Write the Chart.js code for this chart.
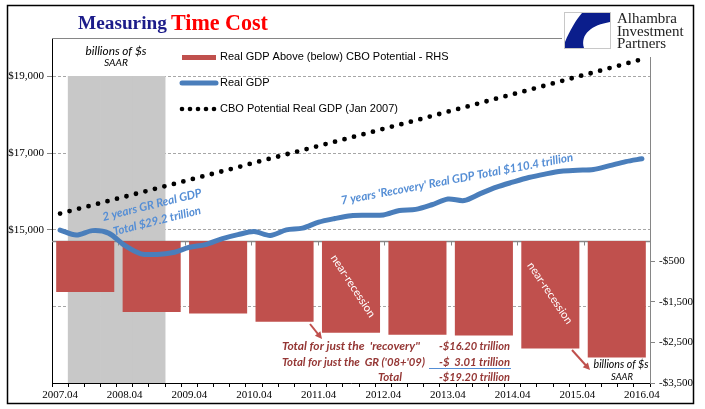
<!DOCTYPE html>
<html><head><meta charset="utf-8">
<script src="https://cdn.jsdelivr.net/npm/chart.js@4.4.1/dist/chart.umd.min.js"></script>
<style>html,body{margin:0;padding:0;background:#fff;}#wrap{width:705px;height:409px;}</style>
</head><body><div id="wrap"><canvas id="c" width="705" height="409"></canvas></div>
<script>
// ---- DATA ----
const quarters = ['2007.04','2008.01','2008.02','2008.03','2008.04','2009.01','2009.02','2009.03','2009.04',
  '2010.01','2010.02','2010.03','2010.04','2011.01','2011.02','2011.03','2011.04','2012.01','2012.02','2012.03','2012.04',
  '2013.01','2013.02','2013.03','2013.04','2014.01','2014.02','2014.03','2014.04','2015.01','2015.02','2015.03','2015.04',
  '2016.01','2016.02','2016.03','2016.04'];
const gapYears = ['2008','2009','2010','2011','2012','2013','2014','2015','2016'];
const gdpGap = [-1260,-1750,-1790,-1990,-2260,-2310,-2330,-2650,-2870];
const realGDP = [14990,14860,14975,14910,14590,14370,14355,14405,14540,14610,14760,14870,14950,14850,14995,15040,
  15195,15290,15365,15375,15385,15500,15530,15650,15800,15760,15940,16110,16240,16360,16450,16525,16550,16570,16670,16775,16850];
const cboPotential = [15420,15530,15640,15750,15860,15970,16080,16190,16300,16410,16520,16630,16745,16855,16965,17075,
  17185,17295,17405,17515,17630,17740,17850,17965,18080,18190,18305,18420,18530,18645,18760,18875,18990,19100,19215,19330,19445];
const recessionShade = [null,19000,19000,19000,19000,19000,19000,null,null,null,null,null,null,null,null,null,null,null,null,
  null,null,null,null,null,null,null,null,null,null,null,null,null,null,null,null,null,null];
const leftTicks = [11000,13000,15000,17000,19000,20000];
const leftTicksShown = [15000,17000,19000];
const rightTicks = [-3500,-2500,-1500,-500,500,1500,2500,3500,4500,5000];
const seriesNames = ['Real GDP Above (below) CBO Potential - RHS','Real GDP','CBO Potential Real GDP (Jan 2007)'];

const RED='#C0504D', BLUE='#4A7EBB', ANN_BLUE='#558ED5', DARKRED='#953735';

function fitFont(ctx, text, target, style, family){
  ctx.font = style+' 20px '+family;
  const w = ctx.measureText(text).width;
  return style+' '+(20*target/w).toFixed(2)+'px '+family;
}
function drawText(ctx, text, x, y, opts){
  ctx.save();
  ctx.translate(x,y);
  if(opts.angle) ctx.rotate(opts.angle*Math.PI/180);
  ctx.font = opts.width ? fitFont(ctx,text,opts.width,opts.style||'',opts.family) : opts.font;
  ctx.fillStyle = opts.color||'#000';
  ctx.textAlign = opts.align||'center';
  ctx.textBaseline = 'middle';
  ctx.fillText(text,0,0);
  ctx.restore();
}
function arrow(ctx,x1,y1,x2,y2,color){
  ctx.save();
  ctx.strokeStyle=color; ctx.fillStyle=color; ctx.lineWidth=2;
  const a=Math.atan2(y2-y1,x2-x1);
  ctx.beginPath(); ctx.moveTo(x1,y1); ctx.lineTo(x2-5*Math.cos(a),y2-5*Math.sin(a)); ctx.stroke();
  ctx.beginPath(); ctx.moveTo(x2,y2);
  ctx.lineTo(x2-7*Math.cos(a)+3.5*Math.sin(a), y2-7*Math.sin(a)-3.5*Math.cos(a));
  ctx.lineTo(x2-7*Math.cos(a)-3.5*Math.sin(a), y2-7*Math.sin(a)+3.5*Math.cos(a));
  ctx.closePath(); ctx.fill();
  ctx.restore();
}

const zeroLinePlugin = {
  id:'zeroLine',
  afterDatasetDraw(chart,args){
    if(args.index!==3) return;
    const ctx=chart.ctx, y2=chart.scales.y2, x2=chart.scales.x2, ca=chart.chartArea;
    const y=Math.round(y2.getPixelForValue(0))+0.5;
    ctx.save();
    ctx.strokeStyle='#868686'; ctx.lineWidth=1.5;
    ctx.beginPath(); ctx.moveTo(ca.left,y); ctx.lineTo(ca.right,y); ctx.stroke();
    ctx.lineWidth=1;
    for(let i=1;i<gapYears.length;i++){
      const x=Math.round((x2.getPixelForValue(i-1)+x2.getPixelForValue(i))/2)+0.5;
      ctx.beginPath(); ctx.moveTo(x,y); ctx.lineTo(x,y+4); ctx.stroke();
    }
    ctx.restore();
  }
};

const decorPlugin = {
  id:'decor',
  beforeDraw(chart){
    const ctx=chart.ctx;
    ctx.save(); ctx.fillStyle='#fff'; ctx.fillRect(0,0,chart.width,chart.height); ctx.restore();
  },
  afterDraw(chart){
    const ctx=chart.ctx, ca=chart.chartArea;
    ctx.save();
    ctx.strokeStyle='#868686'; ctx.lineWidth=1;
    ctx.beginPath(); ctx.moveTo(ca.left,ca.top+0.5); ctx.lineTo(ca.right,ca.top+0.5); ctx.stroke();
    ctx.restore();

    // legend
    const ds=chart.data.datasets;
    const lf="11px 'Liberation Sans'";
    ctx.save();
    ctx.fillStyle=ds[0].backgroundColor; ctx.fillRect(182,55,34,5);
    ctx.strokeStyle=ds[1].borderColor; ctx.lineWidth=5; ctx.lineCap='round';
    ctx.beginPath(); ctx.moveTo(182,83); ctx.lineTo(216,83); ctx.stroke();
    ctx.fillStyle='#000';
    for(let i=0;i<5;i++){ ctx.beginPath(); ctx.arc(182+i*8,109,2.3,0,Math.PI*2); ctx.fill(); }
    ctx.restore();
    drawText(ctx,ds[0].label,220,57,{font:lf,align:'left'});
    drawText(ctx,ds[1].label,220,83,{font:lf,align:'left'});
    drawText(ctx,ds[2].label,220,109,{font:lf,align:'left'});

    // title
    drawText(ctx,'Measuring',78,24,{width:89,style:'bold',family:"'Liberation Serif'",color:'#1C1C8A',align:'left'});
    drawText(ctx,'Time Cost',171,24,{width:97,style:'bold',family:"'Liberation Serif'",color:'#FF0000',align:'left'});

    // logo
    ctx.save();
    ctx.fillStyle='#fff'; ctx.fillRect(562,6,131,51);
    ctx.strokeStyle='#c8c8c8'; ctx.lineWidth=1; ctx.strokeRect(564.5,12.5,46,36);
    ctx.fillStyle='#0B1E8C';
    ctx.beginPath();
    ctx.moveTo(582,13); ctx.lineTo(610,13); ctx.lineTo(610,22);
    ctx.bezierCurveTo(592,25,580,34,584,48);
    ctx.lineTo(565,48); ctx.lineTo(565,42);
    ctx.bezierCurveTo(570,30,576,20,582,13);
    ctx.closePath(); ctx.fill();
    ctx.restore();
    const lg="15px 'Liberation Serif'";
    drawText(ctx,'Alhambra',617,19,{font:lg,align:'left',color:'#222'});
    drawText(ctx,'Investment',617,32,{font:lg,align:'left',color:'#222'});
    drawText(ctx,'Partners',617,44,{font:lg,align:'left',color:'#222'});

    // units notes
    drawText(ctx,'billions of $s',116,51,{width:61,style:'italic',family:'Lato'});
    drawText(ctx,'SAAR',116,63,{width:24,style:'italic',family:'Lato'});
    drawText(ctx,'billions of $s',621,365,{width:55,style:'italic',family:'Lato'});
    drawText(ctx,'SAAR',622,377,{width:22,style:'italic',family:'Lato'});

    // blue annotations
    drawText(ctx,'2 years GR Real GDP',152,205,{width:102,style:'italic bold',family:'Lato',color:ANN_BLUE,angle:-14});
    drawText(ctx,'Total $29.2 trillion',157,221,{width:90,style:'italic bold',family:'Lato',color:ANN_BLUE,angle:-14});
    drawText(ctx,"7 years 'Recovery' Real GDP Total $110.4 trillion",457,179,{width:236,style:'italic bold',family:'Lato',color:ANN_BLUE,angle:-10.7});

    // near-recession
    drawText(ctx,'near-recession',353,286,{width:72,style:'',family:'Lato',color:'#fff',angle:57});
    drawText(ctx,'near-recession',550,293,{width:72,style:'',family:'Lato',color:'#fff',angle:56});

    // arrows
    arrow(ctx,310,324,322,339,RED);
    arrow(ctx,572,350,590,370,RED);

    // totals block
    const st={style:'italic bold',family:'Lato',color:DARKRED,align:'left'};
    drawText(ctx,"Total for just the  'recovery''",282,346,Object.assign({width:138},st));
    drawText(ctx,"Total for just the  GR ('08+'09)",282,362,Object.assign({width:143},st));
    drawText(ctx,'Total',378,377,Object.assign({width:24},st));
    drawText(ctx,'-$16.20 trillion',439,346,Object.assign({width:71},st));
    drawText(ctx,'-$  3.01 trillion',439,362,Object.assign({width:71},st));
    drawText(ctx,'-$19.20 trillion',439,377,Object.assign({width:71},st));
    ctx.save(); ctx.strokeStyle=ANN_BLUE; ctx.lineWidth=1;
    ctx.beginPath(); ctx.moveTo(429,368.5); ctx.lineTo(511,368.5); ctx.stroke(); ctx.restore();

    ctx.save(); ctx.strokeStyle='#000'; ctx.lineWidth=1.5; ctx.strokeRect(7.5,5.5,686,398); ctx.restore();
  }
};

function build(){
  new Chart(document.getElementById('c'),{
    type:'bar',
    data:{
      labels:quarters,
      datasets:[
        {type:'bar',label:seriesNames[0],data:gdpGap,xAxisID:'x2',yAxisID:'y2',backgroundColor:RED,
         barPercentage:0.874,categoryPercentage:1,grouped:false,order:2},
        {type:'line',label:seriesNames[1],data:realGDP,xAxisID:'x',yAxisID:'y',borderColor:BLUE,borderWidth:5,
         pointRadius:0,tension:0.3,borderCapStyle:'round',borderJoinStyle:'round',order:1},
        {type:'line',label:seriesNames[2],data:cboPotential,xAxisID:'x',yAxisID:'y',borderColor:'#000',borderWidth:4.8,
         borderDash:[0,9.8],borderCapStyle:'round',pointRadius:0,tension:0,order:0},
        {type:'bar',label:'Recession',data:recessionShade,xAxisID:'x',yAxisID:'y',backgroundColor:'#C8C8C8',
         barPercentage:1,categoryPercentage:1,grouped:false,order:5}
      ]
    },
    options:{
      responsive:false, animation:false, events:[],
      layout:{padding:{top:38,left:0,right:0,bottom:0}},
      plugins:{legend:{display:false},tooltip:{enabled:false},title:{display:false}},
      scales:{
        x:{type:'category',position:'bottom',offset:true,
           grid:{offset:true,drawOnChartArea:false,color:'#000',tickColor:'#000',tickLength:4},
           border:{color:'#000',width:1},
           ticks:{autoSkip:false,maxRotation:0,minRotation:0,padding:2,color:'#000',
             font:{family:'Liberation Serif',size:11},
             callback:(v,i)=> i%4===0 ? quarters[i] : ''},
           afterFit:s=>{s.height=26;}},
        x2:{type:'category',labels:gapYears,offset:true,display:false},
        y:{position:'left',min:11000,max:20000,
           afterBuildTicks:s=>{s.ticks=leftTicks.map(v=>({value:v}));},
           ticks:{padding:3,color:'#000',font:{family:'Liberation Serif',size:11},
             callback:v=> leftTicksShown.includes(v) ? '$'+v.toLocaleString('en-US') : ''},
           grid:{color:c=> (c.tick && c.tick.value>11000 && c.tick.value<20000) ? '#A6A6A6' : 'rgba(0,0,0,0)',
             tickColor:c=> (c.tick && leftTicksShown.includes(c.tick.value)) ? '#868686' : 'rgba(0,0,0,0)',
             tickLength:5,lineWidth:1},
           border:{color:'#000',width:1,dash:[3,2]},
           afterFit:s=>{s.width=52;}},
        y2:{position:'right',min:-3500,max:5000,
           afterBuildTicks:s=>{s.ticks=rightTicks.map(v=>({value:v}));},
           ticks:{padding:4,color:'#000',font:{family:'Liberation Serif',size:11},
             callback:v=> v<0 ? '-$'+Math.abs(v).toLocaleString('en-US') : ''},
           grid:{drawOnChartArea:false,tickLength:5,
             color:c=> (c.tick && c.tick.value<0) ? '#868686' : 'rgba(0,0,0,0)'},
           border:{color:'#868686',width:1},
           afterFit:s=>{s.width=55;}}
      }
    },
    plugins:[decorPlugin,zeroLinePlugin]
  });
}
Promise.all([
  document.fonts.load("italic bold 12px Lato"),document.fonts.load("italic 12px Lato"),document.fonts.load("12px Lato"),
  document.fonts.load("11px 'Liberation Serif'"),document.fonts.load("bold 20px 'Liberation Serif'"),document.fonts.load("11px 'Liberation Sans'")
]).then(build,build);
</script></body></html>
